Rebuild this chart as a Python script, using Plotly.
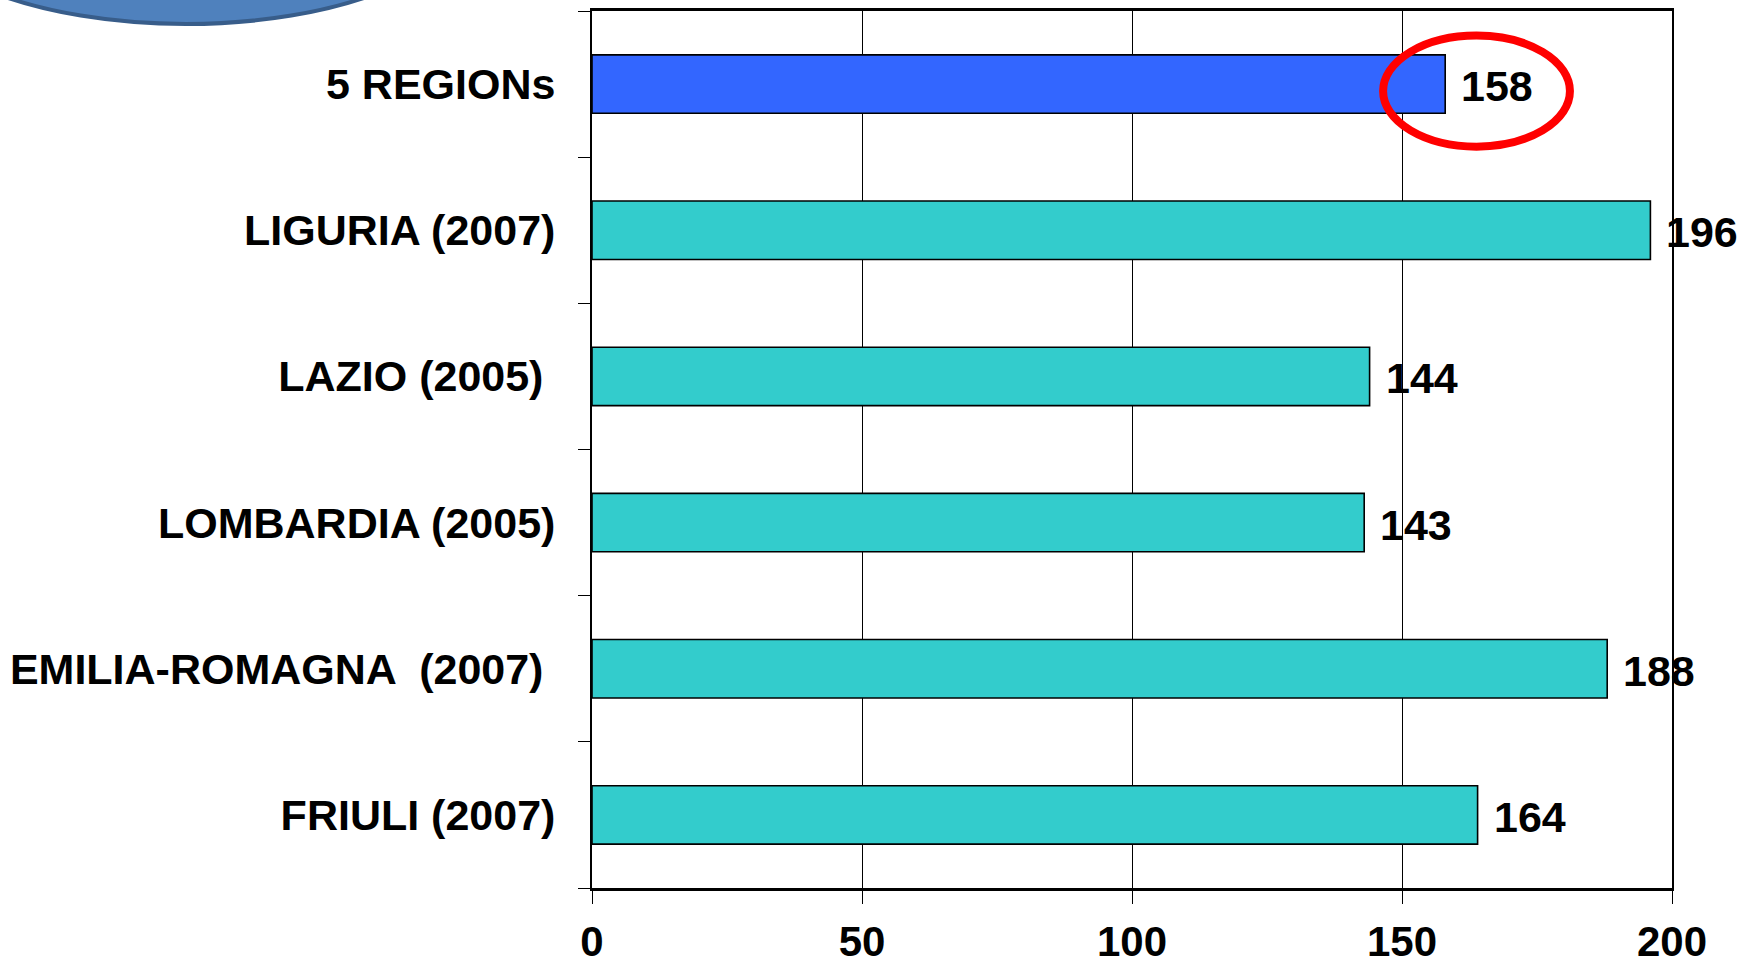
import plotly.graph_objects as go

# Data
categories = ["5 REGIONs", "LIGURIA (2007)", "LAZIO (2005)\u00a0", "LOMBARDIA (2005)",
              "EMILIA-ROMAGNA \u00a0(2007)\u00a0", "FRIULI (2007)"]
values = [158, 196, 144, 143, 188, 164]
bar_colors = ["#3366FF", "#33CCCC", "#33CCCC", "#33CCCC", "#33CCCC", "#33CCCC"]
x_ticks = [0, 50, 100, 150, 200]

W, H = 1741, 969
ML, MR, MT, MB = 592, 69, 11, 81
FONT = "Liberation Sans, Arial, sans-serif"

fig = go.Figure()
fig.add_trace(go.Bar(
    y=categories, x=values, orientation="h",
    marker=dict(color=bar_colors, line=dict(color="black", width=1.6)),
    width=0.4, hoverinfo="x+y",
))

# value labels next to each bar
for cat, v in zip(categories, values):
    fig.add_annotation(x=v, y=cat, xref="x", yref="y", text=f"<b>{v}</b>",
                       showarrow=False, xanchor="left", yanchor="middle",
                       xshift=14, yshift=-2,
                       font=dict(family=FONT, size=43, color="black"))

# red ring around the combined value
hl = values[0]
fig.add_shape(type="circle", xref="x", yref="y",
              x0=hl - 11.5, x1=hl + 23.1, y0=0.048 - 0.38, y1=0.048 + 0.38,
              line=dict(color="#FF0000", width=8), layer="above")

# blue rounded badge partly off the top-left edge
pw, ph = W - ML - MR, H - MT - MB
def px_to_paper_x(px):
    return (px - ML) / pw
def px_to_paper_y(py):
    return (H - MB - py) / ph
fig.add_shape(type="circle", xref="paper", yref="paper",
              x0=px_to_paper_x(-100), x1=px_to_paper_x(472),
              y0=px_to_paper_y(24), y1=px_to_paper_y(-216),
              fillcolor="#4F81BD", line=dict(color="#385D8A", width=4), layer="above")

fig.update_layout(
    width=W, height=H,
    margin=dict(l=ML, r=MR, t=MT, b=MB, pad=0, autoexpand=False),
    paper_bgcolor="white", plot_bgcolor="white",
    showlegend=False,
    font=dict(family=FONT, color="black"),
    bargap=0.6,
)
fig.update_xaxes(
    range=[0, 200], tickvals=x_ticks, ticktext=[f"<b>{t}</b>" for t in x_ticks],
    showgrid=True, gridcolor="black", gridwidth=1,
    showline=True, linecolor="black", linewidth=2.5, mirror=True,
    ticks="outside", ticklen=13, tickcolor="black", tickwidth=1,
    ticklabelstandoff=2, automargin=False,
    tickfont=dict(family=FONT, size=42, color="black"),
    zeroline=False, fixedrange=True,
)
fig.update_yaxes(
    categoryorder="array", categoryarray=categories, autorange="reversed",
    ticktext=[f"<b>{c}</b>" for c in categories], tickvals=categories,
    showgrid=False,
    showline=True, linecolor="black", linewidth=2, mirror=True,
    ticks="outside", ticklen=12, tickcolor="black", tickwidth=1,
    tickson="boundaries", ticklabelstandoff=26, automargin=False,
    tickfont=dict(family=FONT, size=43, color="black"),
    fixedrange=True,
)

fig.write_html("out.html")
